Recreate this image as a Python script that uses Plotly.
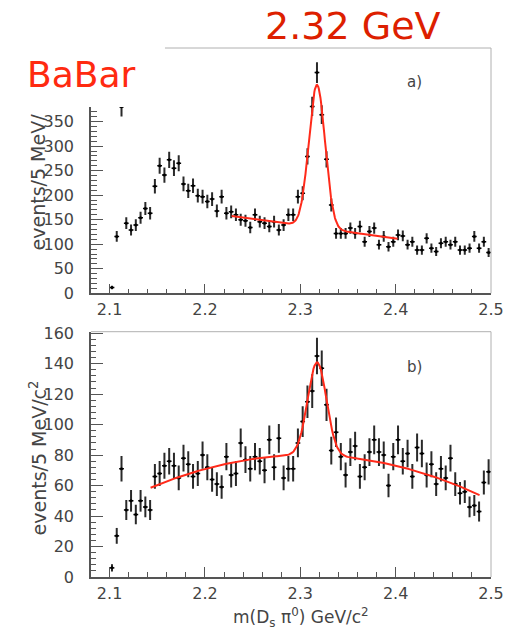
import numpy as np
import plotly.graph_objects as go

# ---------------- data ----------------
mass_bins = [2.1025, 2.1075, 2.1125, 2.1175, 2.1225, 2.1275, 2.1325, 2.1375, 2.1425, 2.1475,
             2.1525, 2.1575, 2.1625, 2.1675, 2.1725, 2.1775, 2.1825, 2.1875, 2.1925, 2.1975,
             2.2025, 2.2075, 2.2125, 2.2175, 2.2225, 2.2275, 2.2325, 2.2375, 2.2425, 2.2475,
             2.2525, 2.2575, 2.2625, 2.2675, 2.2725, 2.2775, 2.2825, 2.2875, 2.2925, 2.2975,
             2.3025, 2.3075, 2.3125, 2.3175, 2.3225, 2.3275, 2.3325, 2.3375, 2.3425, 2.3475,
             2.3525, 2.3575, 2.3625, 2.3675, 2.3725, 2.3775, 2.3825, 2.3875, 2.3925, 2.3975,
             2.4025, 2.4075, 2.4125, 2.4175, 2.4225, 2.4275, 2.4325, 2.4375, 2.4425, 2.4475,
             2.4525, 2.4575, 2.4625, 2.4675, 2.4725, 2.4775, 2.4825, 2.4875, 2.4925, 2.4975]

events_a = [12, 116, 380, 143, 129, 139, 154, 173, 163, 218,
            260, 241, 272, 255, 265, 223, 209, 219, 199, 197,
            187, 192, 168, 197, 163, 166, 160, 150, 148, 134,
            160, 146, 143, 136, 146, 129, 139, 160, 160, 197,
            204, 279, 381, 450, 364, 273, 180, 122, 122, 122,
            133, 122, 136, 105, 126, 133, 99, 116, 95, 105,
            119, 117, 99, 105, 88, 88, 112, 92, 85, 102,
            105, 99, 105, 88, 88, 92, 116, 92, 105, 83]

errors_a = [3.5, 10.8, 19.5, 12.0, 11.4, 11.8, 12.4, 13.2, 12.8, 14.8,
            16.1, 15.5, 16.5, 16.0, 16.3, 14.9, 14.5, 14.8, 14.1, 14.0,
            13.7, 13.9, 13.0, 14.0, 12.8, 12.9, 12.6, 12.2, 12.2, 11.6,
            12.6, 12.1, 12.0, 11.7, 12.1, 11.4, 11.8, 12.6, 12.6, 14.0,
            14.3, 16.7, 19.5, 21.2, 19.1, 16.5, 13.4, 11.0, 11.0, 11.0,
            11.5, 11.0, 11.7, 10.2, 11.2, 11.5, 9.9, 10.8, 9.7, 10.2,
            10.9, 10.8, 9.9, 10.2, 9.4, 9.4, 10.6, 9.6, 9.2, 10.1,
            10.2, 9.9, 10.2, 9.4, 9.4, 9.6, 10.8, 9.6, 10.2, 9.1]

events_b = [6, 27, 71, 44, 50, 41, 50, 46, 44, 66,
            68, 73, 76, 73, 65, 78, 74, 66, 68, 80,
            72, 64, 61, 59, 79, 67, 68, 88, 77, 71,
            79, 76, 70, 90, 72, 91, 65, 71, 71, 88,
            102, 115, 122, 145, 137, 113, 83, 95, 79, 67,
            82, 86, 66, 72, 82, 90, 82, 80, 60, 79,
            90, 76, 81, 66, 85, 81, 67, 74, 61, 71,
            65, 78, 61, 55, 56, 46, 47, 43, 62, 69]

errors_b = [2.4, 5.2, 8.4, 6.6, 7.1, 6.4, 7.1, 6.8, 6.6, 8.1,
            8.2, 8.5, 8.7, 8.5, 8.1, 8.8, 8.6, 8.1, 8.2, 8.9,
            8.5, 8.0, 7.8, 7.7, 8.9, 8.2, 8.2, 9.4, 8.8, 8.4,
            8.9, 8.7, 8.4, 9.5, 8.5, 9.5, 8.1, 8.4, 8.4, 9.4,
            10.1, 10.7, 11.0, 12.0, 11.7, 10.6, 9.1, 9.7, 8.9, 8.2,
            9.1, 9.3, 8.1, 8.5, 9.1, 9.5, 9.1, 8.9, 7.7, 8.9,
            9.5, 8.7, 9.0, 8.1, 9.2, 9.0, 8.2, 8.6, 7.8, 8.4,
            8.1, 8.8, 7.8, 7.4, 7.5, 6.8, 6.9, 6.6, 7.9, 8.3]

half_bin = 0.0025

# y tick labels visible in the reference
yticks_a = [0, 50, 100, 150, 200, 250, 300, 350]
yticks_b = [0, 20, 40, 60, 80, 100, 120, 140, 160]
xticks = [2.1, 2.2, 2.3, 2.4, 2.5]

# fit parameters (gaussian + polynomial background)
fit_a_range = [2.228, 2.402]
fit_a_mean, fit_a_sigma, fit_a_amp = 2.3175, 0.0085, 291.0
fit_a_pivot, fit_a_bg = 2.29, [141.0, -265.0, 0.0]

fit_b_range = [2.143, 2.488]
fit_b_mean, fit_b_sigma, fit_b_amp = 2.3176, 0.0098, 61.0
fit_b_pivot, fit_b_bg = 2.31, [80.0, -5.2, -798.0]


def fit_curve(rng, mean, sigma, amp, pivot, bg):
    x = np.linspace(rng[0], rng[1], 300)
    t = x - pivot
    y = bg[0] + bg[1] * t + bg[2] * t ** 2 + amp * np.exp(-0.5 * ((x - mean) / sigma) ** 2)
    return x, y


# ---------------- geometry ----------------
W, H = 516, 630
ML, MR, MT, MB = 91, 14, 48, 53
PW, PH = W - ML - MR, H - MT - MB


def px(xp):
    return (xp - ML) / PW


def py(yp):
    return (H - MB - yp) / PH


FONT = "DejaVu Sans"
AXC = "#555555"
TXT = "#444444"
RED_FIT = "#ff2a1a"

fig = go.Figure()

for xa, ya, ev, er in (("x", "y", events_a, errors_a), ("x2", "y2", events_b, errors_b)):
    fig.add_trace(go.Scatter(
        x=mass_bins, y=ev, xaxis=xa, yaxis=ya, mode="markers",
        marker=dict(color="black", size=3),
        error_x=dict(type="constant", value=half_bin, thickness=1.5, width=0, color="black"),
        error_y=dict(type="data", array=er, thickness=2, width=0, color="#2a2a2a"),
        showlegend=False, hoverinfo="x+y"))

xa_fit, ya_fit = fit_curve(fit_a_range, fit_a_mean, fit_a_sigma, fit_a_amp, fit_a_pivot, fit_a_bg)
fig.add_trace(go.Scatter(x=xa_fit, y=ya_fit, xaxis="x", yaxis="y", mode="lines",
                         line=dict(color=RED_FIT, width=2), showlegend=False))
xb_fit, yb_fit = fit_curve(fit_b_range, fit_b_mean, fit_b_sigma, fit_b_amp, fit_b_pivot, fit_b_bg)
fig.add_trace(go.Scatter(x=xb_fit, y=yb_fit, xaxis="x2", yaxis="y2", mode="lines",
                         line=dict(color=RED_FIT, width=2), showlegend=False))

xcommon = dict(range=[2.0805, 2.5], tickmode="array", tickvals=xticks,
               ticktext=[f"{v:.1f}" for v in xticks],
               ticks="inside", ticklen=10, tickwidth=1, tickcolor=AXC,
               minor=dict(tick0=2.1, dtick=0.02, ticks="inside", ticklen=5, tickcolor=AXC),
               showline=True, linecolor=AXC, linewidth=1.5, mirror=False,
               showgrid=False, zeroline=False, ticklabelstandoff=1,
               tickfont=dict(family=FONT, size=16, color=TXT))

fig.update_layout(
    width=W, height=H, margin=dict(l=ML, r=MR, t=MT, b=MB, pad=0),
    paper_bgcolor="white", plot_bgcolor="white",
    xaxis=dict(domain=[0, 1], anchor="y", **xcommon),
    xaxis2=dict(domain=[0, 1], anchor="y2", **xcommon),
    yaxis=dict(domain=[0.5363, 1], anchor="x", range=[0, 500], tickmode="array",
               tickvals=yticks_a, ticktext=[str(v) for v in yticks_a],
               ticks="inside", ticklen=12, tickcolor=AXC,
               minor=dict(tick0=0, dtick=10, ticks="inside", ticklen=6, tickcolor=AXC),
               showline=True, linecolor=AXC, linewidth=1.5, showgrid=False, zeroline=False,
               ticklabelstandoff=12, tickfont=dict(family=FONT, size=16, color=TXT)),
    yaxis2=dict(domain=[0, 0.4637], anchor="x2", range=[0, 161], tickmode="array",
                tickvals=yticks_b, ticktext=[str(v) for v in yticks_b],
                ticks="inside", ticklen=12, tickcolor=AXC,
                minor=dict(tick0=0, dtick=4, ticks="inside", ticklen=5, tickcolor=AXC),
                showline=True, linecolor=AXC, linewidth=1.5, showgrid=False, zeroline=False,
                ticklabelstandoff=12, tickfont=dict(family=FONT, size=16, color=TXT)),
)

shapes = []
for xr, yr in (("x domain", "y domain"), ("x2 domain", "y2 domain")):
    shapes.append(dict(type="line", xref=xr, yref=yr, x0=0, x1=1, y0=1, y1=1,
                       line=dict(color="#b0b0b0", width=1), layer="above"))
    shapes.append(dict(type="line", xref=xr, yref=yr, x0=1, x1=1, y0=0, y1=1,
                       line=dict(color="#b0b0b0", width=1), layer="above"))
# white patch hiding the upper-left corner of the upper frame (as in the reference)
shapes.append(dict(type="rect", xref="paper", yref="paper", x0=px(-5), x1=px(167),
                   y0=py(107), y1=py(-5), fillcolor="white", line=dict(width=0), layer="above"))
fig.update_layout(shapes=shapes)


def label(text, xp, yp, size, color, angle=0):
    return dict(text=text, x=px(xp), y=py(yp), xref="paper", yref="paper",
                xanchor="center", yanchor="middle", textangle=angle, showarrow=False,
                font=dict(family=FONT, size=size, color=color))


ann = [
    label("2.32 GeV", 360, 26, 38, "#dd1f00"),
    label("BaBar", 81, 74, 36, "#ff2a10"),
    label("a)", 423, 82, 15, TXT),
    label("b)", 423, 367, 15, TXT),
    label("events/5 MeV/", 37, 182, 19, TXT, -90),
    label("events/5 MeV/c<sup>2</sup>", 37, 458, 19, TXT, -90),
    label("m(D<sub>s</sub> \u03c0<sup>0</sup>) GeV/c<sup>2</sup>", 307, 617, 17, TXT),
]
fig.update_layout(annotations=ann)

fig.write_html("out.html")
